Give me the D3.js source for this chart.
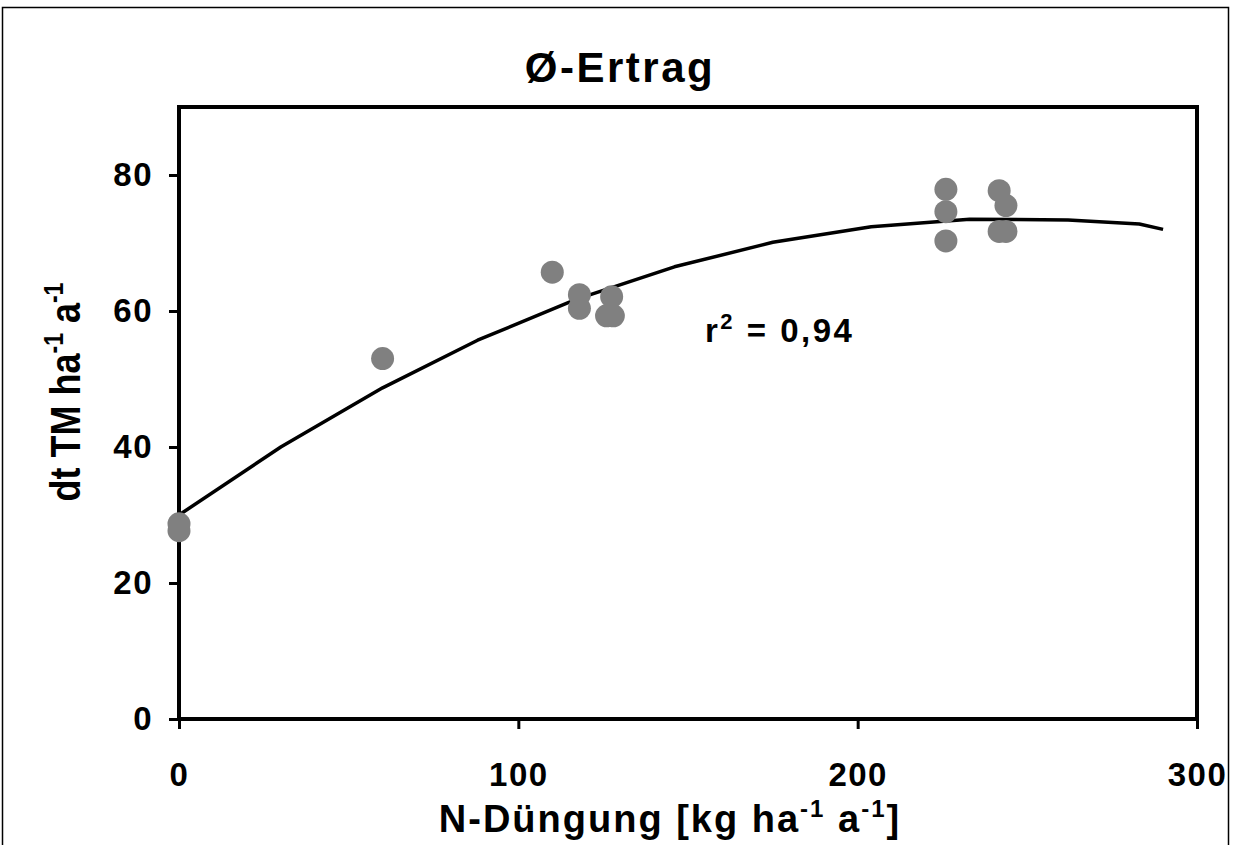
<!DOCTYPE html>
<html>
<head>
<meta charset="utf-8">
<script src="https://cdn.jsdelivr.net/npm/d3@7"></script>
<style>
    html, body { margin: 0; padding: 0; background: #fff; }
    svg { display: block; font-family: Arial, "Liberation Sans", sans-serif; font-weight: bold; }
</style>
</head>
<body>
<div id="chart"></div>
<script>
// measured points (N-Düngung, Ertrag)
const nDuengung = [0, 0, 60, 110, 118, 118, 126, 128, 127.5, 226, 226, 226, 241.7, 243.7, 241.7, 243.7];
const ertrag = [28.7, 27.7, 53.0, 65.7, 62.4, 60.4, 59.3, 59.3, 62.1, 77.9, 74.6, 70.3, 77.7, 75.5, 71.7, 71.7];

// trend line
const trendX = [0, 30, 60, 88, 117, 146, 175, 204, 233, 262, 283, 290];
const trendY = [30.0, 40.0, 48.7, 55.7, 61.7, 66.5, 70.1, 72.4, 73.5, 73.4, 72.8, 72.0];

const xTicks = [0, 100, 200, 300];
const yTicks = [0, 20, 40, 60, 80];

const W = 1233, H = 845;
const margin = { top: 107, right: 36, bottom: 126, left: 179 };
const FONT = "Arial, 'Liberation Sans', sans-serif";

const svg = d3.select("#chart")
    .append("svg")
    .attr("width", W)
    .attr("height", H);

// outer frame (runs off the bottom)
svg.append("rect")
    .attr("x", 2.5).attr("y", 7.5)
    .attr("width", 1226).attr("height", 900)
    .attr("fill", "none")
    .attr("stroke", "#000")
    .attr("stroke-width", 1.5);

const x = d3.scaleLinear().domain([0, 300]).range([margin.left, W - margin.right]);
const y = d3.scaleLinear().domain([0, 90]).range([H - margin.bottom, margin.top]);

// plot box
svg.append("rect")
    .attr("x", x(0)).attr("y", y(90))
    .attr("width", x(300) - x(0)).attr("height", y(0) - y(90))
    .attr("fill", "none")
    .attr("stroke", "#000")
    .attr("stroke-width", 4);

// X axis
const xAxis = svg.append("g")
    .attr("transform", `translate(0,${y(0)})`)
    .call(d3.axisBottom(x).tickValues(xTicks).tickSize(10).tickSizeOuter(0));
xAxis.select(".domain").remove();
xAxis.selectAll(".tick line").attr("stroke-width", 3);
xAxis.selectAll(".tick text")
    .attr("y", 67)
    .attr("dy", null)
    .attr("font-size", 33)
    .attr("letter-spacing", 1.5)
    .attr("font-weight", "bold")
    .attr("font-family", FONT)
    .attr("fill", "#000");

// Y axis
const yAxis = svg.append("g")
    .attr("transform", `translate(${x(0)},0)`)
    .call(d3.axisLeft(y).tickValues(yTicks).tickSize(10).tickPadding(16).tickSizeOuter(0));
yAxis.select(".domain").remove();
yAxis.selectAll(".tick line").attr("stroke-width", 3);
yAxis.selectAll(".tick text")
    .attr("font-size", 33)
    .attr("letter-spacing", 1.5)
    .attr("font-weight", "bold")
    .attr("font-family", FONT)
    .attr("fill", "#000");

// trend line
const trend = trendX.map((v, i) => [v, trendY[i]]);
svg.append("path")
    .datum(trend)
    .attr("fill", "none")
    .attr("stroke", "#000")
    .attr("stroke-width", 3.5)
    .attr("stroke-linejoin", "round")
    .attr("d", d3.line().x(d => x(d[0])).y(d => y(d[1])));

// points
svg.append("g")
    .selectAll("circle")
    .data(nDuengung.map((v, i) => [v, ertrag[i]]))
    .enter()
    .append("circle")
    .attr("cx", d => x(d[0]))
    .attr("cy", d => y(d[1]))
    .attr("r", 11.5)
    .attr("fill", "#808080");

// title
svg.append("text")
    .attr("x", 620).attr("y", 82)
    .attr("text-anchor", "middle")
    .attr("font-size", 42)
    .attr("letter-spacing", 2.5)
    .text("Ø-Ertrag");

// r²
const r2 = svg.append("text")
    .attr("x", 705).attr("y", 342)
    .attr("font-size", 33)
    .attr("letter-spacing", 2.5);
r2.append("tspan").text("r");
r2.append("tspan").attr("dy", -13).attr("font-size", 22).text("2");
r2.append("tspan").attr("dy", 13).text(" = 0,94");

// X title
const xt = svg.append("text")
    .attr("x", 670).attr("y", 832)
    .attr("text-anchor", "middle")
    .attr("font-size", 38)
    .attr("letter-spacing", 2);
xt.append("tspan").text("N-Düngung [kg ha");
xt.append("tspan").attr("dy", -15).attr("font-size", 24).text("-1");
xt.append("tspan").attr("dy", 15).text(" a");
xt.append("tspan").attr("dy", -15).attr("font-size", 24).text("-1");
xt.append("tspan").attr("dy", 15).text("]");

// Y title
const yt = svg.append("text")
    .attr("transform", "translate(80,392) scale(1.2,1) rotate(-90)")
    .attr("text-anchor", "middle")
    .attr("font-size", 36);
yt.append("tspan").text("dt TM ha");
yt.append("tspan").attr("dy", -14).attr("font-size", 23).text("-1");
yt.append("tspan").attr("dy", 14).text("  a");
yt.append("tspan").attr("dy", -14).attr("font-size", 23).text("-1");
</script>
</body>
</html>
